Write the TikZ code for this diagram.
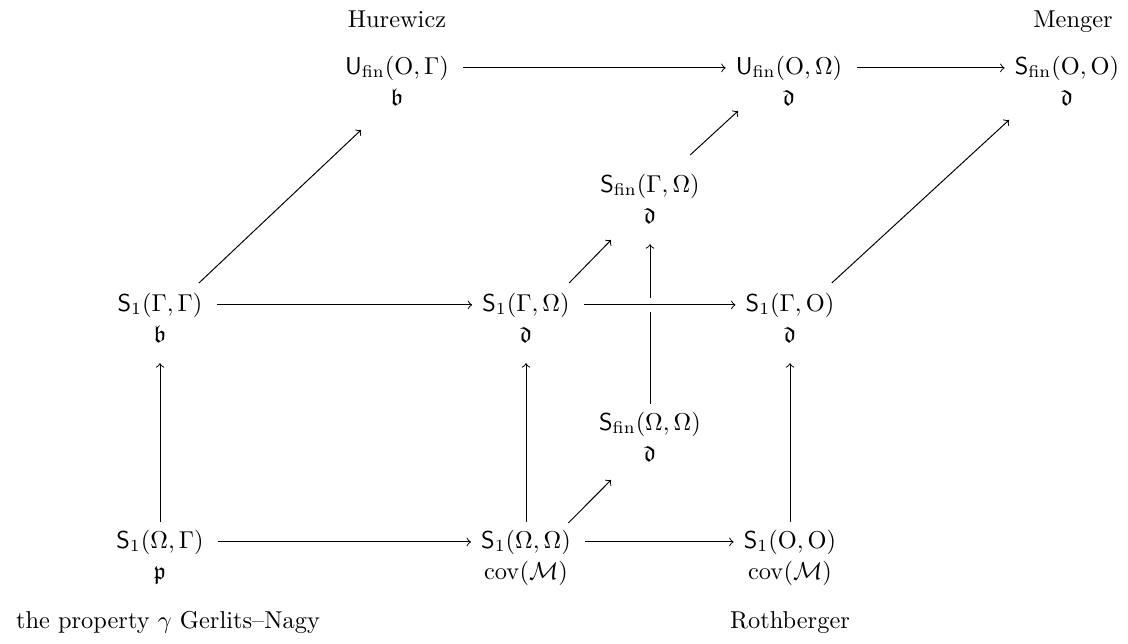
\documentclass[tikz,border=0pt]{standalone}
\usepackage{amsmath,amssymb}
\begin{document}
\begin{tikzpicture}[x=0.4098pt,y=-0.4098pt,
  m/.style={inner sep=0pt, anchor=base},
  arr/.style={->, >=to},
  harr/.style={arr, shorten <=5.7pt, shorten >=4pt},
  varr/.style={arr, shorten <=3pt, shorten >=8.5pt},
  cross/.style={preaction={draw=white, line width=6pt, -}}]
\useasboundingbox (0,0) rectangle (1128,643);
% titles
\node[m] (hur) at (397,27) {Hurewicz};
\node[m] (men) at (1073,27) {Menger};
\node[m] (ger) at (168,628) {the property $\gamma$ Gerlits--Nagy};
\node[m] (rot) at (790,628) {Rothberger};
% top row
\node[m] (uOG) at (397,74) {$\mathsf{U}_{\mathrm{fin}}(\mathrm{O},\Gamma)$};
\node[m] (uOGl) at (397,105) {$\mathfrak{b}$};
\node[m] (uOO) at (789,74) {$\mathsf{U}_{\mathrm{fin}}(\mathrm{O},\Omega)$};
\node[m] (uOOl) at (789,105) {$\mathfrak{d}$};
\node[m] (fOO) at (1067,74) {$\mathsf{S}_{\mathrm{fin}}(\mathrm{O},\mathrm{O})$};
\node[m] (fOOl) at (1067,105) {$\mathfrak{d}$};
% second
\node[m] (fGO) at (650,192) {$\mathsf{S}_{\mathrm{fin}}(\Gamma,\Omega)$};
\node[m] (fGOl) at (650,223) {$\mathfrak{d}$};
% middle row
\node[m] (sGG) at (160,311) {$\mathsf{S}_1(\Gamma,\Gamma)$};
\node[m] (sGGl) at (160,342) {$\mathfrak{b}$};
\node[m] (sGO) at (526,311) {$\mathsf{S}_1(\Gamma,\Omega)$};
\node[m] (sGOl) at (526,342) {$\mathfrak{d}$};
\node[m] (sGOm) at (790,311) {$\mathsf{S}_1(\Gamma,\mathrm{O})$};
\node[m] (sGOml) at (790,342) {$\mathfrak{d}$};
% fourth
\node[m] (fOmOm) at (650,430) {$\mathsf{S}_{\mathrm{fin}}(\Omega,\Omega)$};
\node[m] (fOmOml) at (650,461) {$\mathfrak{d}$};
% bottom row
\node[m] (sOG) at (160,548) {$\mathsf{S}_1(\Omega,\Gamma)$};
\node[m] (sOGl) at (160,579) {$\mathfrak{p}$};
\node[m] (sOO) at (526,548) {$\mathsf{S}_1(\Omega,\Omega)$};
\node[m] (sOOl) at (526,579) {$\mathrm{cov}(\mathcal{M})$};
\node[m] (oOO) at (790,548) {$\mathsf{S}_1(\mathrm{O},\mathrm{O})$};
\node[m] (oOOl) at (790,579) {$\mathrm{cov}(\mathcal{M})$};
% horizontal arrows
\draw[harr] (uOG) -- (uOO);
\draw[harr] (uOO) -- (fOO);
\draw[harr] (sGG) -- (sGO);
\draw[harr] (sOG) -- (sOO);
\draw[harr] (sOO) -- (oOO);
% vertical arrows
\draw[varr] (sOG) -- (sGGl);
\draw[varr] (sOO) -- (sGOl);
\draw[varr] (oOO) -- (sGOml);
\draw[varr] (fOmOm) -- (fGOl);
% crossing horizontal
\draw[harr, cross] (sGO) -- (sGOm);
% diagonal arrows
\draw[arr] ([shift={(-4,-28)}]sGG.base east) -- ([shift={(-36,25)}]uOGl.base);
\draw[arr] ([shift={(-1,-28)}]sGO.base east) -- ([shift={(-39,17)}]fGOl.base);
\draw[arr] ([shift={(-10,-37)}]fGO.base east) -- ([shift={(-51,6)}]uOOl.base);
\draw[arr] ([shift={(-3,-28)}]sGOm.base east) -- ([shift={(-58,15)}]fOOl.base);
\draw[arr] ([shift={(-3,-25)}]sOO.base east) -- ([shift={(-39,19)}]fOmOml.base);
\end{tikzpicture}
\end{document}
